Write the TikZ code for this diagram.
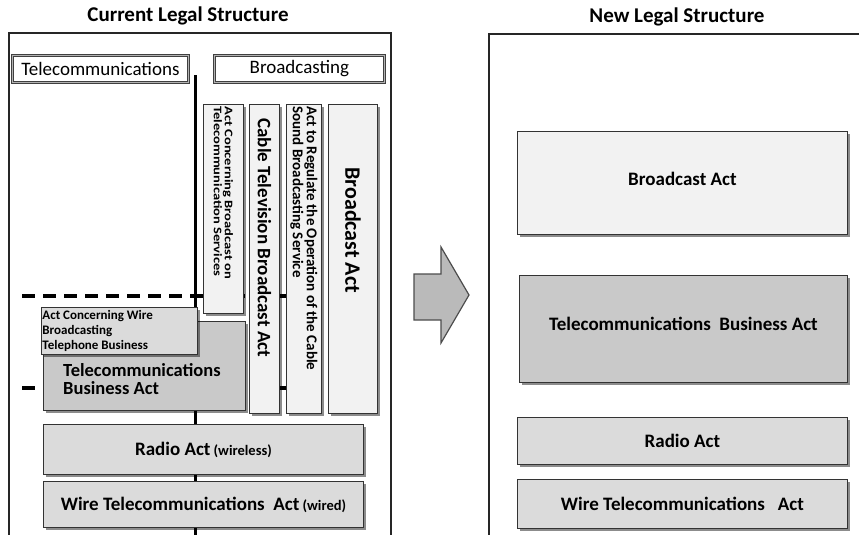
\documentclass[tikz,border=0pt]{standalone}
\usepackage{fontspec}
\setmainfont{Carlito}
\usetikzlibrary{shadows}
\newcommand\setfs[2]{\fontsize{#1}{#2}\selectfont}
\begin{document}
\begin{tikzpicture}[x=1pt,y=-1pt,
  frame/.style={draw=black!85, line width=1.5pt},
  title/.style={font=\setfs{21}{24}\bfseries, inner sep=0pt},
  hdr/.style={draw=black!75, line width=0.8pt, double=gray!60, double distance=1.6pt,
    fill=white, inner sep=0pt, anchor=north west, font=\setfs{19}{21}},
  box/.style={draw=black!80, line width=0.9pt, inner sep=0pt, anchor=north west,
    drop shadow={shadow xshift=2.2pt, shadow yshift=-2.2pt, opacity=0.45, fill=black}},
  light/.style={box, fill=black!5},
  mid/.style={box, fill=black!14},
  dark/.style={box, fill=black!21},
  backbone/.style={draw=black, line width=3pt},
  dashline/.style={draw=black, line width=3.5pt, dash pattern=on 13pt off 8pt},
  txt/.style={inner sep=0pt, font=\bfseries},
]
\useasboundingbox (0,0) rectangle (859,535);

% titles
\node[title] (t1) at (188,16) {Current Legal Structure};
\node[title] (t2) at (677,17) {New Legal Structure};

% frames
\coordinate (f1a) at (9,535); \coordinate (f1b) at (9,33);
\coordinate (f1c) at (391,33); \coordinate (f1d) at (391,535);
\draw[frame] (f1a) -- (f1b) -- (f1c) -- (f1d);
\coordinate (f2a) at (489,535); \coordinate (f2b) at (489,34);
\coordinate (f2c) at (862,34);
\draw[frame] (f2a) -- (f2b) -- (f2c);

% headers
\node[hdr, minimum width=176pt, minimum height=27pt] (tel) at (12,55) {Telecommunications};
\node[hdr, minimum width=170pt, minimum height=27pt] (brd) at (214,55) {Broadcasting};

% backbone and dashed lines (behind boxes)
\coordinate (bbtop) at (195,75); \coordinate (bbbot) at (195,535);
\draw[backbone] (bbtop) -- (bbbot);
\coordinate (d1a) at (22,296); \coordinate (d1b) at (300,296);
\coordinate (d2a) at (22,388); \coordinate (d2b) at (300,388);
\draw[dashline] (d1a) -- (d1b);
\draw[dashline] (d2a) -- (d2b);

% vertical boxes
\node[light, minimum width=40pt, minimum height=209pt] (actA) at (203,104)
  {\rotatebox{-90}{\scalebox{1}[0.8]{\parbox{205pt}{\setfs{14.5}{12.5}\bfseries\raggedright
   Act Concerning Broadcast on\\Telecommunication Services}}}};
\node[light, minimum width=30pt, minimum height=309pt] (actB) at (249,104)
  {\rotatebox{-90}{\parbox{305pt}{\setfs{19}{21}\bfseries\raggedright\hspace*{12pt}Cable Television  Broadcast  Act}}};
\node[light, minimum width=35pt, minimum height=309pt] (actC) at (286,104)
  {\rotatebox{-90}{\parbox{305pt}{\setfs{15}{12.5}\bfseries\raggedright
   Act to Regulate the Operation of the Cable\\Sound Broadcasting Service}}};
\node[light, minimum width=49pt, minimum height=309pt] (actD) at (328,104)
  {\rotatebox{-90}{\parbox{305pt}{\setfs{22}{24}\bfseries\raggedright\hspace*{61pt}Broadcast Act}}};

% telecommunications business act (left)
\node[dark, minimum width=202pt, minimum height=89pt] (tbaL) at (43,321) {};
\node[txt, align=left, font=\setfs{18.5}{18.5}\bfseries, anchor=west] (tbaLtxt) at (63,379)
  {Telecommunications\\Business Act};

% wire broadcasting telephone
\node[mid, minimum width=156pt, minimum height=47pt, align=left,
  font=\setfs{13}{15}\bfseries] (wbt) at (41,307)
  {\parbox{154pt}{Act Concerning Wire\\Broadcasting\\Telephone Business}};

% radio and wire (left)
\node[mid, minimum width=320pt, minimum height=50pt, font=\setfs{19}{21}\bfseries] (radL) at (43,424)
  {Radio Act\,{\setfs{14.5}{16}(wireless)}};
\node[mid, minimum width=320pt, minimum height=46pt, font=\setfs{19}{21}\bfseries] (wirL) at (43,481)
  {Wire Telecommunications\ \ Act\,{\setfs{14.5}{16}(wired)}};

% arrow
\coordinate (a1) at (414,274); \coordinate (a2) at (441,274); \coordinate (a3) at (441,247);
\coordinate (a4) at (469,295); \coordinate (a5) at (441,343); \coordinate (a6) at (441,320);
\coordinate (a7) at (414,320);
\draw[draw=black!70, line width=1.2pt, fill=black!27] (a1) -- (a2) -- (a3) -- (a4) -- (a5) -- (a6) -- (a7) -- cycle;

% right side
\node[light, minimum width=330pt, minimum height=103pt, text depth=8pt, font=\setfs{19}{21}\bfseries] (bcR) at (517,131) {Broadcast Act};
\node[dark, minimum width=328pt, minimum height=107pt, text depth=10pt, font=\setfs{19}{21}\bfseries] (tbaR) at (519,275) {Telecommunications\ \ Business Act};
\node[mid, minimum width=330pt, minimum height=47pt, font=\setfs{19}{21}\bfseries] (radR) at (517,417) {Radio Act};
\node[mid, minimum width=330pt, minimum height=49pt, font=\setfs{19}{21}\bfseries] (wirR) at (517,479) {Wire Telecommunications\ \ \ Act};
\end{tikzpicture}
\end{document}
